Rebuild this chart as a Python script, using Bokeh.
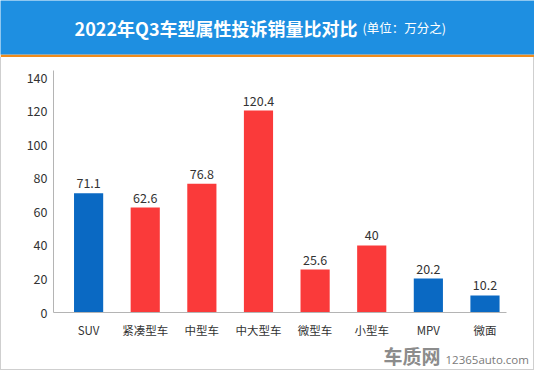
from bokeh.plotting import figure
from bokeh.layouts import column
from bokeh.models import Range1d, FixedTicker, Label, ColumnDataSource
from bokeh.core.properties import value
from bokeh.embed import file_html
from bokeh.resources import INLINE

# ---- data ----
categories = ["SUV", "紧凑型车", "中型车", "中大型车", "微型车", "小型车", "MPV", "微面"]
values = [71.1, 62.6, 76.8, 120.4, 25.6, 40, 20.2, 10.2]
bar_colors = ["#0A69C3", "#FA3A3A", "#FA3A3A", "#FA3A3A", "#FA3A3A", "#FA3A3A", "#0A69C3", "#0A69C3"]
y_ticks = [0, 20, 40, 60, 80, 100, 120, 140]
title_main = "2022年Q3车型属性投诉销量比对比"
title_unit = "(单位：万分之)"
watermark_logo = "车质网"
watermark_site = "12365auto.com"

FONT = "Noto Sans CJK SC"
W = 534
WI = W - 2  # inner width inside the grey frame


def bare(fig):
    fig.outline_line_color = None
    fig.xgrid.visible = False
    fig.ygrid.visible = False
    fig.frame_align = False


# ---- header ----
hdr = figure(width=W, height=57, output_backend="svg", toolbar_location=None,
             x_range=Range1d(0, W), y_range=Range1d(0, 54),
             x_axis_location=None, y_axis_location=None,
             min_border_left=0, min_border_right=0, min_border_top=0, min_border_bottom=3)
bare(hdr)
hdr.background_fill_color = "#1E8FE1"
hdr.border_fill_color = "#F08C1C"
hdr.add_layout(Label(x=357, y=27, text=title_main, text_align="right", text_baseline="middle",
                     text_font=FONT, text_font_size="18px", text_font_style="bold", text_color="white"))
hdr.add_layout(Label(x=362, y=27, text=title_unit, text_align="left", text_baseline="middle",
                     text_font=FONT, text_font_size="12.5px", text_color="white"))

# ---- chart ----
idx = list(range(len(categories)))
src = ColumnDataSource(dict(x=idx, top=values, color=bar_colors,
                            label=[f"{v:g}" for v in values]))

p = figure(width=WI, height=283, output_backend="svg", toolbar_location=None,
           x_range=Range1d(-0.62, len(categories) - 0.62), y_range=Range1d(0, 144.3),
           min_border_left=52, min_border_right=27, min_border_top=13, min_border_bottom=21)
bare(p)
p.background_fill_color = "white"
p.border_fill_color = "white"

p.vbar(x="x", top="top", bottom=0, width=0.515, color="color", line_color=None, source=src)
p.text(x="x", y="top", text="label", source=src, text_align="center", text_baseline="middle",
       y_offset=-10, text_font=value(FONT), text_font_size="12.5px", text_color="#333333")

xa = p.xaxis[0]
xa.ticker = FixedTicker(ticks=idx)
xa.major_label_overrides = {i: c for i, c in zip(idx, categories)}
ya = p.yaxis[0]
ya.ticker = FixedTicker(ticks=y_ticks)
for ax in (xa, ya):
    ax.axis_line_color = "#B4B4B4"
    ax.major_tick_line_color = None
    ax.minor_tick_line_color = None
    ax.major_tick_in = 0
    ax.major_tick_out = 0
    ax.major_label_text_font = FONT
    ax.major_label_text_color = "#333333"
xa.major_label_text_font_size = "11.5px"
xa.major_label_standoff = 9
ya.major_label_text_font_size = "12.5px"
ya.major_label_standoff = 6

# ---- footer (watermark) ----
ftr = figure(width=WI, height=29, output_backend="svg", toolbar_location=None,
             x_range=Range1d(0, WI), y_range=Range1d(0, 29),
             x_axis_location=None, y_axis_location=None,
             min_border_left=0, min_border_right=0, min_border_top=0, min_border_bottom=0)
bare(ftr)
ftr.background_fill_color = "white"
ftr.border_fill_color = "white"
ftr.add_layout(Label(x=382, y=14, text=watermark_logo, text_align="left", text_baseline="middle",
                     text_font=FONT, text_font_size="19px", text_font_style="bold", text_color="#8C8C8C"))
ftr.add_layout(Label(x=444, y=10, text=watermark_site, text_align="left", text_baseline="middle",
                     text_font="Open Sans", text_font_size="11.5px", text_color="#7A7A7A"))

body = column(p, ftr, width=WI, height=312,
              styles={"border-left": "1px solid #CFCFCF", "border-right": "1px solid #CFCFCF",
                      "border-bottom": "1px solid #CFCFCF", "box-sizing": "content-box"})
layout = column(hdr, body)
open("out.html", "w").write(file_html(layout, INLINE))
